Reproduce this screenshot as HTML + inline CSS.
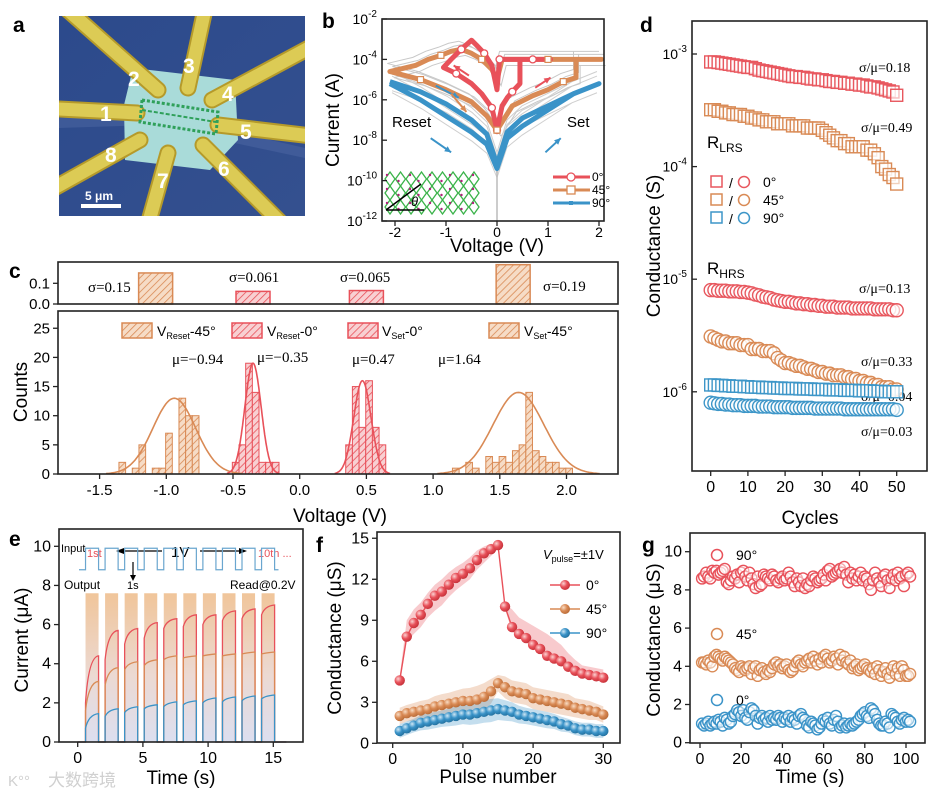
<!DOCTYPE html>
<html><head><meta charset="utf-8"><style>
body{margin:0;background:#fff}
svg{display:block;font-family:"Liberation Sans",Arial,sans-serif}
.ser{font-family:"Liberation Serif",serif}
</style></head><body>
<svg id="fig" width="948" height="798" viewBox="0 0 948 798">
<defs>
<pattern id="hatchO" patternUnits="userSpaceOnUse" width="5" height="5" patternTransform="rotate(45)"><rect width="5" height="5" fill="#f6dcc6"/><line x1="0" y1="0" x2="0" y2="5" stroke="#d98a55" stroke-width="1.6"/></pattern>
<pattern id="hatchR" patternUnits="userSpaceOnUse" width="5" height="5" patternTransform="rotate(45)"><rect width="5" height="5" fill="#f8d0d2"/><line x1="0" y1="0" x2="0" y2="5" stroke="#e8515a" stroke-width="1.6"/></pattern>
<linearGradient id="pulseG" x1="0" y1="0" x2="0" y2="1"><stop offset="0" stop-color="#f0c59a"/><stop offset="0.55" stop-color="#ecd9d2"/><stop offset="1" stop-color="#dcdff0"/></linearGradient>
<radialGradient id="ballR" cx="0.35" cy="0.35" r="0.7"><stop offset="0" stop-color="#fbd2d2"/><stop offset="0.5" stop-color="#e8515a"/><stop offset="1" stop-color="#c43038"/></radialGradient>
<radialGradient id="ballO" cx="0.35" cy="0.35" r="0.7"><stop offset="0" stop-color="#f8dcc4"/><stop offset="0.5" stop-color="#d98a55"/><stop offset="1" stop-color="#b86a36"/></radialGradient>
<radialGradient id="ballB" cx="0.35" cy="0.35" r="0.7"><stop offset="0" stop-color="#cfe7f5"/><stop offset="0.5" stop-color="#3a93c8"/><stop offset="1" stop-color="#23709e"/></radialGradient>
<linearGradient id="semBg" x1="0" y1="0" x2="1" y2="1"><stop offset="0" stop-color="#2c4a8c"/><stop offset="1" stop-color="#34508f"/></linearGradient>
<clipPath id="semClip"><rect x="59" y="16" width="246" height="200"/></clipPath>
</defs>

<!-- panel letters -->
<text x="13" y="32" font-size="21" font-weight="bold">a</text>
<text x="322" y="28" font-size="21" font-weight="bold">b</text>
<text x="9" y="278" font-size="21" font-weight="bold">c</text>
<text x="640" y="32" font-size="21" font-weight="bold">d</text>
<text x="9" y="546" font-size="21" font-weight="bold">e</text>
<text x="316" y="552" font-size="21" font-weight="bold">f</text>
<text x="642" y="552" font-size="21" font-weight="bold">g</text>

<!-- panel a: SEM image -->
<g clip-path="url(#semClip)">
<rect x="59" y="16" width="246" height="200" fill="url(#semBg)"/>
<polygon points="59,118 150,112 305,148 305,158 150,125 59,128" fill="#4a64a0" opacity="0.6"/>
<polygon points="133,68 235,80 238,140 210,170 125,160 124,105" fill="#a9dbd9"/>
<g stroke="#b59a2a" stroke-width="17" stroke-linecap="round">
<line x1="40" y1="108" x2="137" y2="113"/><line x1="60" y1="3" x2="158" y2="90"/><line x1="207" y1="0" x2="188" y2="88"/><line x1="320" y1="42" x2="212" y2="100"/><line x1="320" y1="137" x2="218" y2="125"/><line x1="290" y1="232" x2="203" y2="145"/><line x1="146" y1="232" x2="168" y2="153"/><line x1="40" y1="196" x2="140" y2="140"/>
</g>
<g stroke="#dccb55" stroke-width="13" stroke-linecap="round">
<line x1="40" y1="108" x2="137" y2="113"/><line x1="60" y1="3" x2="158" y2="90"/><line x1="207" y1="0" x2="188" y2="88"/><line x1="320" y1="42" x2="212" y2="100"/><line x1="320" y1="137" x2="218" y2="125"/><line x1="290" y1="232" x2="203" y2="145"/><line x1="146" y1="232" x2="168" y2="153"/><line x1="40" y1="196" x2="140" y2="140"/>
</g>
<polygon points="142,100 218,112 216,134 140,122" fill="none" stroke="#2fa05a" stroke-width="3" stroke-dasharray="3 2"/>
<line x1="142" y1="110" x2="216" y2="122" stroke="#2fa05a" stroke-width="2" stroke-dasharray="4 2"/>
<g fill="#fff" font-size="21" font-weight="bold">
<text x="100" y="121">1</text><text x="128" y="86">2</text><text x="183" y="73">3</text><text x="222" y="101">4</text><text x="240" y="139">5</text><text x="218" y="176">6</text><text x="157" y="188">7</text><text x="105" y="162">8</text>
</g>
<text x="85" y="200" fill="#fff" font-size="12" font-weight="bold">5 μm</text>
<rect x="81" y="204" width="40" height="4" fill="#fff"/>
</g>

<!-- static texts -->
<text transform="translate(339,120) rotate(-90)" text-anchor="middle" font-size="19">Current (A)</text>
<text x="497" y="252" text-anchor="middle" font-size="19">Voltage (V)</text>
<text x="392" y="127" font-size="15">Reset</text>
<text x="567" y="127" font-size="15">Set</text>

<text transform="translate(27,392) rotate(-90)" text-anchor="middle" font-size="19">Counts</text>
<text x="340" y="522" text-anchor="middle" font-size="19">Voltage (V)</text>
<g class="ser" font-size="15">
<text x="88" y="292">σ=0.15</text><text x="229" y="282">σ=0.061</text><text x="340" y="282">σ=0.065</text><text x="543" y="291">σ=0.19</text>
</g>
<g class="ser" font-size="15">
<text x="172" y="364">μ=−0.94</text><text x="257" y="362">μ=−0.35</text><text x="352" y="364">μ=0.47</text><text x="438" y="364">μ=1.64</text>
</g>
<g font-size="14">
<rect x="122" y="323" width="30" height="15" fill="url(#hatchO)" stroke="#d98a55" stroke-width="1.5"/><text x="157" y="336">V<tspan font-size="9" dy="3">Reset</tspan><tspan dy="-3">-45°</tspan></text>
<rect x="232" y="323" width="30" height="15" fill="url(#hatchR)" stroke="#e8515a" stroke-width="1.5"/><text x="267" y="336">V<tspan font-size="9" dy="3">Reset</tspan><tspan dy="-3">-0°</tspan></text>
<rect x="348" y="323" width="30" height="15" fill="url(#hatchR)" stroke="#e8515a" stroke-width="1.5"/><text x="382" y="336">V<tspan font-size="9" dy="3">Set</tspan><tspan dy="-3">-0°</tspan></text>
<rect x="489" y="323" width="30" height="15" fill="url(#hatchO)" stroke="#d98a55" stroke-width="1.5"/><text x="524" y="336">V<tspan font-size="9" dy="3">Set</tspan><tspan dy="-3">-45°</tspan></text>
</g>

<text transform="translate(660,246) rotate(-90)" text-anchor="middle" font-size="19">Conductance (S)</text>
<text x="810" y="524" text-anchor="middle" font-size="19">Cycles</text>
<text x="707" y="148" font-size="17">R<tspan font-size="12" dy="4">LRS</tspan></text>
<text x="707" y="274" font-size="17">R<tspan font-size="12" dy="4">HRS</tspan></text>
<g class="ser" font-size="14">
<text x="859" y="72">σ/μ=0.18</text><text x="861" y="132">σ/μ=0.49</text><text x="859" y="293">σ/μ=0.13</text><text x="861" y="366">σ/μ=0.33</text><text x="861" y="401">σ/μ=0.04</text><text x="861" y="436">σ/μ=0.03</text>
</g>
<g font-size="14">
<rect x="711" y="176" width="11" height="11" fill="none" stroke="#e8575e" stroke-width="1.5"/><text x="729" y="188">/</text><circle cx="744" cy="182" r="5.5" fill="none" stroke="#e8575e" stroke-width="1.5"/><text x="763" y="187">0°</text>
<rect x="711" y="194" width="11" height="11" fill="none" stroke="#d98a55" stroke-width="1.5"/><text x="729" y="206">/</text><circle cx="744" cy="200" r="5.5" fill="none" stroke="#d98a55" stroke-width="1.5"/><text x="763" y="205">45°</text>
<rect x="711" y="212" width="11" height="11" fill="none" stroke="#3d96c8" stroke-width="1.5"/><text x="729" y="224">/</text><circle cx="744" cy="218" r="5.5" fill="none" stroke="#3d96c8" stroke-width="1.5"/><text x="763" y="223">90°</text>
</g>

<text transform="translate(28,640) rotate(-90)" text-anchor="middle" font-size="19">Current (μA)</text>
<text x="181" y="784" text-anchor="middle" font-size="19">Time (s)</text>
<g>
<text x="61" y="552" font-size="11">Input</text><text x="87" y="557" font-size="11" fill="#e8515a">1st</text>
<text x="171" y="557" font-size="15">1V</text>
<line x1="162" y1="551" x2="120" y2="551" stroke="#000" stroke-width="1.2"/><polygon points="116,551 124,548 124,554" fill="#000"/>
<line x1="200" y1="551" x2="243" y2="551" stroke="#000" stroke-width="1.2"/><polygon points="247,551 239,548 239,554" fill="#000"/>
<text x="258" y="557" font-size="11" fill="#e8515a">10th ...</text>
<text x="64" y="589" font-size="12">Output</text><text x="127" y="589" font-size="11">1s</text>
<line x1="133" y1="562" x2="133" y2="577" stroke="#000" stroke-width="1.2"/><polygon points="133,581 130,575 136,575" fill="#000"/>
<text x="230" y="589" font-size="12">Read@0.2V</text>
</g>
<text x="48" y="786" font-size="17" fill="#d0d0d0" font-family="'Liberation Sans','Noto Sans CJK SC',sans-serif">大数跨境</text>
<text x="8" y="786" font-size="15" fill="#d0d0d0">K°°</text>

<text transform="translate(341,638) rotate(-90)" text-anchor="middle" font-size="19">Conductance (μS)</text>
<text x="498" y="783" text-anchor="middle" font-size="19">Pulse number</text>
<text x="543" y="559" font-size="13"><tspan font-style="italic">V</tspan><tspan font-size="9" dy="3">pulse</tspan><tspan dy="-3">=±1V</tspan></text>
<g font-size="14">
<line x1="550" y1="585" x2="580" y2="585" stroke="#e8515a" stroke-width="1.5"/><circle cx="565" cy="585" r="5" fill="url(#ballR)"/><text x="586" y="590">0°</text>
<line x1="550" y1="609" x2="580" y2="609" stroke="#d98a55" stroke-width="1.5"/><circle cx="565" cy="609" r="5" fill="url(#ballO)"/><text x="586" y="614">45°</text>
<line x1="550" y1="633" x2="580" y2="633" stroke="#3a93c8" stroke-width="1.5"/><circle cx="565" cy="633" r="5" fill="url(#ballB)"/><text x="586" y="638">90°</text>
</g>

<text transform="translate(660,640) rotate(-90)" text-anchor="middle" font-size="19">Conductance (μS)</text>
<text x="810" y="783" text-anchor="middle" font-size="19">Time (s)</text>
<g font-size="14">
<circle cx="717" cy="555" r="5.5" fill="none" stroke="#e8515a" stroke-width="1.5"/><text x="736" y="560">90°</text>
<circle cx="717" cy="634" r="5.5" fill="none" stroke="#d98a55" stroke-width="1.5"/><text x="736" y="639">45°</text>
<circle cx="717" cy="700" r="5.5" fill="none" stroke="#3a93c8" stroke-width="1.5"/><text x="736" y="705">0°</text>
</g>
</svg>
<script>
// ---------- data ----------
const bRedV=[0,0.1,0.2,0.3,0.45,0.45,0.7,1.05,0.5,0.05,0,-0.1,-0.25,-0.4,-0.5,-0.7,-0.9,-1.05,-0.8,-0.5,-0.3,-0.1,0];
const bRedL=[-7.5,-6.3,-5.9,-5.6,-5.2,-4,-4,-4,-4,-4,-5.5,-4.3,-3.7,-3.3,-3.05,-3.5,-4.0,-4.4,-4.7,-5.2,-5.7,-6.4,-7.5];
const bOrgV=[0,0.3,0.7,1.0,1.3,1.55,1.55,2.05,1.0,0.1,0,-0.1,-0.3,-0.5,-0.7,-0.9,-1.1,-1.35,-1.6,-2.1,-1.5,-1.0,-0.5,-0.2,0];
const bOrgL=[-7.5,-6.3,-5.8,-5.5,-5.1,-4.9,-4,-4,-4,-4,-5,-4.5,-4.0,-3.7,-3.5,-3.6,-3.8,-4.0,-4.3,-4.6,-5.0,-5.5,-6.1,-6.8,-7.5];
const bBluV=[-2.1,-1.5,-1,-0.5,-0.2,0,0.2,0.5,1,1.5,2,1.5,1,0.5,0.2,0,-0.2,-0.5,-1,-1.5,-2.1];
const bBluL=[-5.1,-5.6,-6.2,-7.0,-7.7,-9.2,-7.6,-6.9,-6.3,-5.7,-5.2,-5.7,-6.5,-7.3,-7.9,-9.4,-8.2,-7.6,-6.8,-6.0,-5.2];
const bXTicks=[-2,-1,0,1,2];
const bYTicks=[-12,-10,-8,-6,-4,-2];
const cReset45V=[-1.33,-1.23,-1.18,-1.08,-1.03,-0.98,-0.88,-0.83,-0.78];
const cReset45N=[2,1,5,1,1,7,13,10,10];
const cReset0V=[-0.48,-0.43,-0.38,-0.33,-0.28,-0.23,-0.18];
const cReset0N=[2,5,19,14,2,2,2];
const cSet0V=[0.37,0.42,0.47,0.52,0.57,0.62];
const cSet0N=[5,15,8,16,8,5];
const cSet45V=[1.17,1.27,1.32,1.42,1.47,1.52,1.57,1.62,1.67,1.72,1.77,1.82,1.87,1.92,1.97,2.02];
const cSet45N=[1,2,1,3,2,3,2,4,5,14,4,3,2,2,1,1];
const cMu=[-0.94,-0.35,0.47,1.64];
const cFitSigma=[0.16,0.061,0.065,0.19];
const cPeak=[13,19,16,14];
const cSigmaBarV=[-1.08,-0.35,0.5,1.6];
const cSigmaBarH=[0.15,0.061,0.065,0.19];
const cXTicks=[-1.5,-1.0,-0.5,0.0,0.5,1.0,1.5,2.0];
const cYTicks=[0,5,10,15,20,25];
const dLrs0=[8.5,8.5,8.4,8.3,8.2,8.1,8.0,7.9,7.8,7.7,7.6,7.6,7.4,7.2,7.1,7.0,6.9,6.8,6.7,6.6,6.5,6.4,6.3,6.3,6.2,6.2,6.1,6.0,6.0,5.9,5.9,5.8,5.7,5.7,5.6,5.6,5.5,5.5,5.4,5.4,5.3,5.3,5.2,5.1,5.1,5.0,4.9,4.8,4.7,4.6,4.3];
const dLrs45=[3.2,3.2,3.1,3.1,3.0,3.0,2.9,2.9,2.9,2.8,2.8,2.7,2.7,2.6,2.6,2.5,2.5,2.5,2.4,2.4,2.4,2.4,2.3,2.3,2.3,2.3,2.2,2.2,2.2,2.2,2.1,2.0,1.9,1.8,1.7,1.7,1.6,1.6,1.5,1.5,1.5,1.5,1.4,1.4,1.3,1.2,1.0,0.95,0.85,0.8,0.7];
const dHrs0=[8.0,8.0,7.9,7.9,7.9,7.8,7.8,7.8,7.7,7.7,7.6,7.5,7.3,7.2,7.0,6.9,6.8,6.6,6.5,6.4,6.3,6.3,6.2,6.1,6.1,6.0,6.0,5.9,5.9,5.8,5.8,5.7,5.7,5.7,5.6,5.6,5.6,5.6,5.5,5.5,5.5,5.5,5.5,5.5,5.4,5.4,5.4,5.4,5.4,5.3,5.3];
const dHrs45=[3.1,3.0,2.9,2.8,2.8,2.7,2.7,2.7,2.6,2.6,2.6,2.4,2.4,2.4,2.3,2.3,2.3,2.2,2.0,1.9,1.8,1.8,1.75,1.7,1.7,1.65,1.6,1.6,1.55,1.5,1.5,1.45,1.45,1.4,1.4,1.4,1.35,1.35,1.3,1.3,1.25,1.25,1.2,1.2,1.15,1.15,1.1,1.1,1.1,1.05,1.05];
const dLrs90=[1.15,1.15,1.14,1.14,1.13,1.13,1.12,1.12,1.12,1.11,1.11,1.1,1.1,1.1,1.09,1.09,1.09,1.08,1.08,1.08,1.07,1.07,1.07,1.07,1.06,1.06,1.06,1.06,1.05,1.05,1.05,1.05,1.04,1.04,1.04,1.04,1.03,1.03,1.03,1.03,1.02,1.02,1.02,1.02,1.01,1.01,1.01,1.0,1.0,1.0,1.0];
const dHrs90=[8.0,7.9,7.8,7.8,7.7,7.7,7.6,7.6,7.6,7.5,7.5,7.5,7.5,7.4,7.4,7.4,7.4,7.3,7.3,7.3,7.3,7.3,7.2,7.2,7.2,7.2,7.2,7.2,7.1,7.1,7.1,7.1,7.1,7.1,7.1,7.1,7.0,7.0,7.0,7.0,7.0,7.0,7.0,7.0,7.0,7.0,7.0,7.0,7.0,7.0,6.9];
const dXTicks=[0,10,20,30,40,50];
const dYTicks=[-6,-5,-4,-3];
const ePulseStart=[0.6,2.1,3.6,5.1,6.6,8.1,9.6,11.1,12.6,14.1];
const ePulseWidth=1.0;
const eRedStart=[2.0,4.2,5.0,5.3,5.8,5.9,6.0,6.2,6.3,6.5];
const eRedEnd=[4.4,5.7,5.8,6.1,6.3,6.5,6.5,6.7,6.8,7.0];
const eOrgStart=[1.6,2.9,3.7,3.9,4.2,4.3,4.4,4.4,4.5,4.5];
const eOrgEnd=[3.1,3.8,4.1,4.2,4.4,4.4,4.5,4.5,4.6,4.6];
const eBluStart=[0.7,1.3,1.5,1.7,1.8,1.9,2.0,2.05,2.1,2.2];
const eBluEnd=[1.45,1.7,1.8,1.9,2.05,2.1,2.25,2.3,2.35,2.4];
const eXTicks=[0,5,10,15];
const eYTicks=[0,2,4,6,8,10];
const fRed=[4.6,7.8,8.8,9.4,10.2,10.8,11.1,11.6,12.1,12.4,12.8,13.4,13.9,14.2,14.5,10.0,8.5,8.0,7.7,7.2,6.9,6.4,6.2,6.0,5.6,5.3,5.1,5.0,4.9,4.8];
const fOrg=[2.0,2.2,2.3,2.4,2.5,2.7,2.8,2.9,3.0,3.1,3.1,3.2,3.4,3.8,4.4,4.1,3.8,3.7,3.6,3.3,3.2,3.1,3.0,2.9,2.8,2.6,2.5,2.4,2.3,2.1];
const fBlu=[0.9,1.1,1.3,1.5,1.6,1.7,1.8,1.9,2.0,2.1,2.1,2.2,2.3,2.4,2.5,2.4,2.3,2.1,2.0,1.9,1.8,1.7,1.6,1.4,1.3,1.1,1.0,1.0,0.9,0.9];
const fRedBandUp=[0.3,1.2,1.0,0.9,0.8,0.8,0.9,0.9,0.8,0.8,0.8,0.7,0.5,0.4,0.1,0.2,1.3,1.2,1.2,1.4,1.4,1.6,1.4,1.2,1.0,0.8,0.6,0.6,0.6,0.6];
const fRedBandDn=[0.3,0.4,0.8,0.9,1.0,1.1,1.0,0.9,0.9,0.8,0.8,0.7,0.7,0.5,0.3,0.2,0.3,0.3,0.3,0.3,0.3,0.3,0.3,0.3,0.3,0.3,0.3,0.3,0.3,0.3];
const fOrgBand=[0.6,0.6,0.65,0.7,0.7,0.75,0.8,0.8,0.85,0.9,0.95,1.0,1.0,0.9,0.6,0.8,0.8,0.8,0.8,0.8,0.8,0.8,0.8,0.8,0.8,0.7,0.7,0.7,0.6,0.6];
const fBluBand=[0.5,0.5,0.5,0.55,0.6,0.6,0.6,0.65,0.7,0.7,0.75,0.8,0.8,0.85,0.8,0.75,0.7,0.65,0.6,0.6,0.6,0.6,0.55,0.55,0.5,0.5,0.5,0.5,0.5,0.5];
const fXTicks=[0,10,20,30];
const fYTicks=[0,3,6,9,12,15];
const gRed=[8.6,8.7,8.9,8.7,8.6,9.0,8.9,9.0,8.8,8.9,9.0,9.1,8.4,8.3,8.5,8.7,8.6,8.8,8.4,8.9,9.0,8.7,8.5,8.9,8.6,8.3,8.1,8.7,8.2,8.3,8.8,8.7,8.6,8.5,8.8,8.7,8.5,8.4,8.6,8.7,8.5,8.6,8.9,8.7,8.4,8.2,8.6,8.4,8.2,8.6,8.1,8.3,8.2,8.5,8.7,8.6,8.4,8.5,8.6,8.8,8.5,9.0,9.1,8.7,8.8,8.9,9.0,9.1,8.9,9.2,8.8,8.4,8.9,8.6,8.8,8.5,8.7,8.9,8.5,8.7,8.6,8.3,8.0,8.5,8.9,8.6,8.4,8.2,8.7,8.8,8.5,8.1,8.6,8.8,8.5,8.9,8.6,8.7,8.2,8.8,8.9,8.7];
const gOrg=[4.2,4.2,4.1,4.3,4.2,4.0,4.5,4.6,4.5,4.4,4.3,4.5,4.4,4.3,4.2,4.1,3.9,3.8,3.7,4.0,3.9,3.8,3.9,4.0,3.6,3.9,4.0,3.5,3.8,3.9,3.7,3.6,3.8,3.7,3.9,4.1,4.2,4.0,4.1,3.9,4.0,4.1,3.8,3.7,3.8,4.0,4.2,4.3,4.1,4.0,4.2,4.3,4.4,4.2,4.5,4.3,4.1,4.4,4.2,4.5,4.6,4.4,4.2,4.3,4.5,4.4,4.1,4.6,4.3,4.5,4.2,4.1,4.3,3.9,4.0,4.1,3.8,3.9,4.0,4.1,3.9,3.8,3.7,3.9,3.6,4.0,3.8,3.5,3.7,3.9,3.6,3.4,3.8,4.0,3.6,3.9,3.5,4.0,3.8,3.5,3.5,3.6];
const gBlu=[1.0,0.9,1.0,1.1,0.9,1.0,1.1,1.0,1.2,1.1,0.9,1.3,1.2,1.0,1.1,1.4,1.5,1.7,1.6,1.4,1.7,1.3,1.2,1.6,1.8,1.7,1.4,1.0,1.3,1.4,1.2,1.3,1.1,1.4,1.2,1.3,1.2,1.4,1.3,1.1,1.3,1.2,1.4,1.1,1.3,1.2,1.0,1.4,1.5,1.3,1.2,0.9,0.8,1.1,1.0,0.9,0.7,0.8,1.0,1.2,1.1,1.3,1.0,0.9,1.2,1.4,1.1,0.8,0.9,1.0,0.8,0.9,1.0,0.9,1.0,1.1,1.2,1.4,1.5,1.6,1.4,1.3,1.8,1.7,1.5,1.2,1.0,0.9,0.9,1.1,1.0,0.8,1.5,1.4,1.3,1.1,1.0,1.2,1.3,1.1,1.2,1.1];
const gXTicks=[0,20,40,60,80,100];
const gYTicks=[0,2,4,6,8,10];

// ---------- scales ----------
const xb=v=>497+v*51, yb=l=>19+(-2-l)*20.2;
const xc=v=>299.7+v*133.4, yc=n=>474-n*5.83, yct=s=>304-s*207;
const xd=c=>710.7+c*3.72, yd=g=>54+(-3-Math.log10(g))*112.6;
const xe=t=>77.7+t*13.04, ye=i=>742-i*19.57;
const xf=p=>392.7+p*7.02, yf=s=>743.3-s*13.67;
const xg=t=>700+t*2.06, yg=s=>742.7-s*19.1;

const NS='http://www.w3.org/2000/svg';
const svg=document.getElementById('fig');
function mk(tag,parent){const e=document.createElementNS(NS,tag);parent.appendChild(e);return e;}
function at(e,o){for(const k in o)e.setAttribute(k,o[k]);return e;}
function grp(name){const g=mk('g',svg);


return g;}

function frame(name,x0,y0,x1,y1){const r=at(mk('rect',svg),{x:x0,y:y0,width:x1-x0,height:y1-y0,fill:'none',stroke:'#222','stroke-width':1.6});

}
function xTicks(name,ticks,sx,yAx,fs,fmt,off){const g=grp(name);const o=off||21;ticks.forEach(t=>{const x=sx(t);
const l=at(mk('line',g),{x1:x,x2:x,y1:yAx,y2:yAx+5,stroke:'#222','stroke-width':1.3});


const tx=at(mk('text',g),{x:x,y:yAx+o,'text-anchor':'middle','font-size':fs});tx.textContent=fmt?fmt(t):t;

});}
function yTicks(name,ticks,sy,xAx,fs,fmt){const g=grp(name);ticks.forEach(t=>{const y=sy(t);
const l=at(mk('line',g),{x1:xAx-5,x2:xAx,y1:y,y2:y,stroke:'#222','stroke-width':1.3});


const tx=at(mk('text',g),{x:xAx-8,y:y+5,'text-anchor':'end','font-size':fs});tx.textContent=fmt?fmt(t):t;

});}
function yPow(name,ticks,sy,xAx){const g=grp(name);ticks.forEach(t=>{const y=sy(t);
const l=at(mk('line',g),{x1:xAx,x2:xAx+5,y1:y,y2:y,stroke:'#222','stroke-width':1.3});


const tx=at(mk('text',g),{x:xAx-5,y:y+5,'text-anchor':'end','font-size':14});
tx.innerHTML='10<tspan font-size="10" dy="-7">'+String(t)+'</tspan>';

});}
function path(g,d,st,name){const p=at(mk('path',g),Object.assign({d:d,fill:'none'},st));

return p;}

// ---------- panel b ----------
(function(){
const g=grp('b-plot');
[[0.25,0.05],[-0.3,0.08],[0.4,-0.05]].forEach(o=>{
 let d='';bOrgV.forEach((v,i)=>{d+=(i?'L':'M')+xb(v+o[1])+','+yb(bOrgL[i]+o[0]);});
 path(g,d,{stroke:'#c8c8c8','stroke-width':1},'gray-cycle');
 d='';bBluV.forEach((v,i)=>{d+=(i?'L':'M')+xb(v*0.98)+','+yb(bBluL[i]+o[0]*1.5);});
 path(g,d,{stroke:'#cfcfcf','stroke-width':1},'gray-cycle');
});
path(g,'M'+xb(0)+','+yb(-9)+'L'+xb(0)+','+yb(-12),{stroke:'#bbb','stroke-width':1.5},'gray-spike');
const series=[[bBluV,bBluL,'#3a93c8','iv-curve-90'],[bOrgV,bOrgL,'#d98a55','iv-curve-45'],[bRedV,bRedL,'#e8515a','iv-curve-0']];
series.forEach(s=>{let d='';s[0].forEach((v,i)=>{d+=(i?'L':'M')+xb(v)+','+yb(s[1][i]);});
 path(g,d,{stroke:s[2],'stroke-width':5,'stroke-linejoin':'round'},s[3]);});
bRedV.forEach((v,i)=>{if(i%3)return;const c=at(mk('circle',g),{cx:xb(v),cy:yb(bRedL[i]),r:3.5,fill:'#fff',stroke:'#e8515a','stroke-width':1.3});

});
bOrgV.forEach((v,i)=>{if(i%4)return;const c=at(mk('rect',g),{x:xb(v)-3,y:yb(bOrgL[i])-3,width:6,height:6,fill:'#fff',stroke:'#d98a55','stroke-width':1.2});

});
[[-1.2,-5.3,-0.75,-5.9,'#3a93c8'],[-1.3,-7.9,-0.9,-8.6,'#3a93c8'],[0.95,-8.6,1.25,-7.9,'#3a93c8'],[-0.9,-5.7,-0.6,-6.6,'#d98a55'],[-0.55,-4.8,-0.85,-4.3,'#e8515a'],[0.75,-5.4,1.05,-4.9,'#e8515a']].forEach(a=>{
 const l=at(mk('line',g),{x1:xb(a[0]),y1:yb(a[1]),x2:xb(a[2]),y2:yb(a[3]),stroke:a[4],'stroke-width':2});
 
 
 const ang=Math.atan2(yb(a[3])-yb(a[1]),xb(a[2])-xb(a[0]));const X=xb(a[2]),Y=yb(a[3]);
 const p=at(mk('polygon',g),{points:`${X},${Y} ${X-7*Math.cos(ang-0.45)},${Y-7*Math.sin(ang-0.45)} ${X-7*Math.cos(ang+0.45)},${Y-7*Math.sin(ang+0.45)}`,fill:a[4]});
 
 });
const ig=grp('lattice-inset');
for(let r=0;r<3;r++)for(let k=0;k<9;k++){const x=385+k*10.5,y=172+r*14;
 const p=at(mk('path',ig),{d:`M${x},${y+7}L${x+5},${y}L${x+10},${y+7}L${x+5},${y+14}Z`,fill:'none',stroke:'#3bb34a','stroke-width':1.3});
 
 
 const c=at(mk('circle',ig),{cx:x+2+(k%3),cy:y+3+(k%2)*6,r:1.2,fill:'#b0217a'});
 
 }
path(ig,'M386,210L421,184',{stroke:'#000','stroke-width':1.5},'theta-arrow');
path(ig,'M386,210L424,210',{stroke:'#000','stroke-width':1.5},'axis-arrow');
const th=at(mk('text',ig),{x:411,y:206,'font-size':13,'font-style':'italic'});th.textContent='θ';


frame('b-frame',382,19,604,221);
xTicks('b-x-ticks',bXTicks,xb,221,14,null,16);
yPow('b-y-ticks',bYTicks,yb,382);
const lg=grp('b-legend');
[['#e8515a','0°','c'],['#d98a55','45°','s'],['#3a93c8','90°','d']].forEach((e,i)=>{const y=177+i*13;
 const l=at(mk('line',lg),{x1:553,x2:590,y1:y,y2:y,stroke:e[0],'stroke-width':3});
 
 
 let m;if(e[2]==='c')m=at(mk('circle',lg),{cx:571,cy:y,r:4,fill:'#fff',stroke:e[0],'stroke-width':1.3});
 else if(e[2]==='s')m=at(mk('rect',lg),{x:567,y:y-4,width:8,height:8,fill:'#fff',stroke:e[0],'stroke-width':1.3});
 else m=at(mk('rect',lg),{x:569,y:y-2,width:4,height:4,fill:e[0]});
 
 
 const t=at(mk('text',lg),{x:592,y:y+4,'font-size':12});t.textContent=e[1];
 
 });
})();

// ---------- panel c ----------
(function(){
const g=grp('c-histograms');
const bw=0.05*133.4;
[[cReset45V,cReset45N,'url(#hatchO)','#d98a55','bar-reset-45'],[cReset0V,cReset0N,'url(#hatchR)','#e8515a','bar-reset-0'],[cSet0V,cSet0N,'url(#hatchR)','#e8515a','bar-set-0'],[cSet45V,cSet45N,'url(#hatchO)','#d98a55','bar-set-45']].forEach(s=>{
 s[0].forEach((v,i)=>{const r=at(mk('rect',g),{x:xc(v)-bw/2,y:yc(s[1][i]),width:bw,height:yc(0)-yc(s[1][i]),fill:s[2],stroke:s[3],'stroke-width':1});
 
 });});
const cols=['#d98a55','#e8515a','#e8515a','#d98a55'];
cMu.forEach((m,k)=>{let d='';const sd=cFitSigma[k];for(let j=0;j<=80;j++){const v=m-3.2*sd+j*6.4*sd/80;const n=cPeak[k]*Math.exp(-0.5*((v-m)/sd)**2);d+=(j?'L':'M')+xc(v).toFixed(1)+','+yc(n).toFixed(1);}
 path(g,d,{stroke:cols[k],'stroke-width':1.6},'gauss-fit');});
frame('c-frame',58,311,618,474);
xTicks('c-x-ticks',cXTicks,xc,474,15,t=>t.toFixed(1));
yTicks('c-y-ticks',cYTicks,yc,58,15);
const tg=grp('c-sigma-bars');
cSigmaBarV.forEach((v,i)=>{const r=at(mk('rect',tg),{x:xc(v)-17,y:yct(cSigmaBarH[i]),width:34,height:yct(0)-yct(cSigmaBarH[i]),fill:cols[i]==='#e8515a'?'url(#hatchR)':'url(#hatchO)',stroke:cols[i],'stroke-width':1.5});
 
 });
frame('c-top-frame',58,262,618,304);
yTicks('c-top-y-ticks',[0,0.1],yct,58,15,t=>t.toFixed(1));
})();

// ---------- panel d ----------
(function(){
const g=grp('d-scatter');
function sq(arr,scale,col,name){arr.forEach((v,i)=>{const r=at(mk('rect',g),{x:xd(i)-6,y:yd(v*scale)-6,width:12,height:12,fill:'#fff','fill-opacity':0.6,stroke:col,'stroke-width':1.4});
 
 });}
function ci(arr,scale,col,name){arr.forEach((v,i)=>{const c=at(mk('circle',g),{cx:xd(i),cy:yd(v*scale),r:6.5,fill:'#fff','fill-opacity':0.6,stroke:col,'stroke-width':1.4});
 
 });}
sq(dLrs0,1e-4,'#e8575e','lrs-0-point');sq(dLrs45,1e-4,'#d98a55','lrs-45-point');
ci(dHrs0,1e-6,'#e8575e','hrs-0-point');ci(dHrs45,1e-6,'#d98a55','hrs-45-point');
sq(dLrs90,1e-6,'#3d96c8','lrs-90-point');ci(dHrs90,1e-7,'#3d96c8','hrs-90-point');
frame('d-frame',692,21,927,471);
xTicks('d-x-ticks',dXTicks,xd,471,16);
yPow('d-y-ticks',dYTicks,t=>54+(-3-t)*112.6,692);
})();

// ---------- panel e ----------
(function(){
const g=grp('e-pulses');
ePulseStart.forEach((t,i)=>{const r=at(mk('rect',g),{x:xe(t),y:ye(7.6),width:xe(t+ePulseWidth)-xe(t),height:ye(0)-ye(7.6),fill:'url(#pulseG)'});
 
 });
let d='M'+xe(0.1)+','+ye(8.8);
ePulseStart.forEach(t=>{d+='L'+xe(t)+','+ye(8.8)+'L'+xe(t)+','+ye(9.9)+'L'+xe(t+ePulseWidth)+','+ye(9.9)+'L'+xe(t+ePulseWidth)+','+ye(8.8);});
d+='L'+xe(15.4)+','+ye(8.8);
path(g,d,{stroke:'#6aa6cf','stroke-width':1.2},'input-waveform');
[[eRedStart,eRedEnd,'#e8515a','output-current-0'],[eOrgStart,eOrgEnd,'#d98a55','output-current-45'],[eBluStart,eBluEnd,'#3a93c8','output-current-90']].forEach(s=>{
 let p='M'+xe(0)+','+ye(0);
 ePulseStart.forEach((t,i)=>{const x0=xe(t),x1=xe(t+ePulseWidth);p+='L'+x0+','+ye(0)+'L'+x0+','+ye(s[0][i])+'Q'+(x0+3)+','+ye(s[1][i]-0.05)+' '+x1+','+ye(s[1][i])+'L'+x1+','+ye(0);});
 p+='L'+xe(16)+','+ye(0);
 path(g,p,{stroke:s[2],'stroke-width':1.3},s[3]);});
frame('e-frame',59,529,303,742);
xTicks('e-x-ticks',eXTicks,xe,742,16);
yTicks('e-y-ticks',eYTicks,ye,59,16);
})();

// ---------- panel f ----------
(function(){
const g=grp('f-plot');
function v0(x){return Math.max(x,-0.3);}
function band(arr,up,dn,col,name){let top='',bot='';arr.forEach((v,i)=>{top+=(i?'L':'M')+xf(i+1)+','+yf(v+up[i]);});
 for(let i=arr.length-1;i>=0;i--)bot+='L'+xf(i+1)+','+yf(v0(arr[i]-dn[i]));
 path(g,top+bot+'Z',{fill:col,'fill-opacity':0.3,stroke:'none','stroke-linejoin':'round'},name);}
band(fRed,fRedBandUp,fRedBandDn,'#e8515a','band-0');
band(fOrg,fOrgBand,fOrgBand,'#d98a55','band-45');
band(fBlu,fBluBand,fBluBand,'#3a93c8','band-90');
[[fRed,'#e8515a','url(#ballR)','0'],[fOrg,'#d98a55','url(#ballO)','45'],[fBlu,'#3a93c8','url(#ballB)','90']].forEach(s=>{
 let d='';s[0].forEach((v,i)=>{d+=(i?'L':'M')+xf(i+1)+','+yf(v);});
 path(g,d,{stroke:s[1],'stroke-width':1.4},'line-'+s[3]);
 s[0].forEach((v,i)=>{const c=at(mk('circle',g),{cx:xf(i+1),cy:yf(v),r:5.2,fill:s[2]});
 
 });});
frame('f-frame',377,532,620,743);
xTicks('f-x-ticks',fXTicks,xf,743,16);
yTicks('f-y-ticks',fYTicks,yf,377,16);
})();

// ---------- panel g ----------
(function(){
const g=grp('g-scatter');
[[gRed,'#e8515a','retention-90'],[gOrg,'#d98a55','retention-45'],[gBlu,'#3a93c8','retention-0']].forEach(s=>{
 s[0].forEach((v,i)=>{const c=at(mk('circle',g),{cx:xg(i+1),cy:yg(v),r:5.5,fill:'#fff','fill-opacity':0.5,stroke:s[1],'stroke-width':1.4});
 
 });});
frame('g-frame',690,533,925,743);
xTicks('g-x-ticks',gXTicks,xg,743,16);
yTicks('g-y-ticks',gYTicks,yg,690,16);
})();
</script>
</body></html>
